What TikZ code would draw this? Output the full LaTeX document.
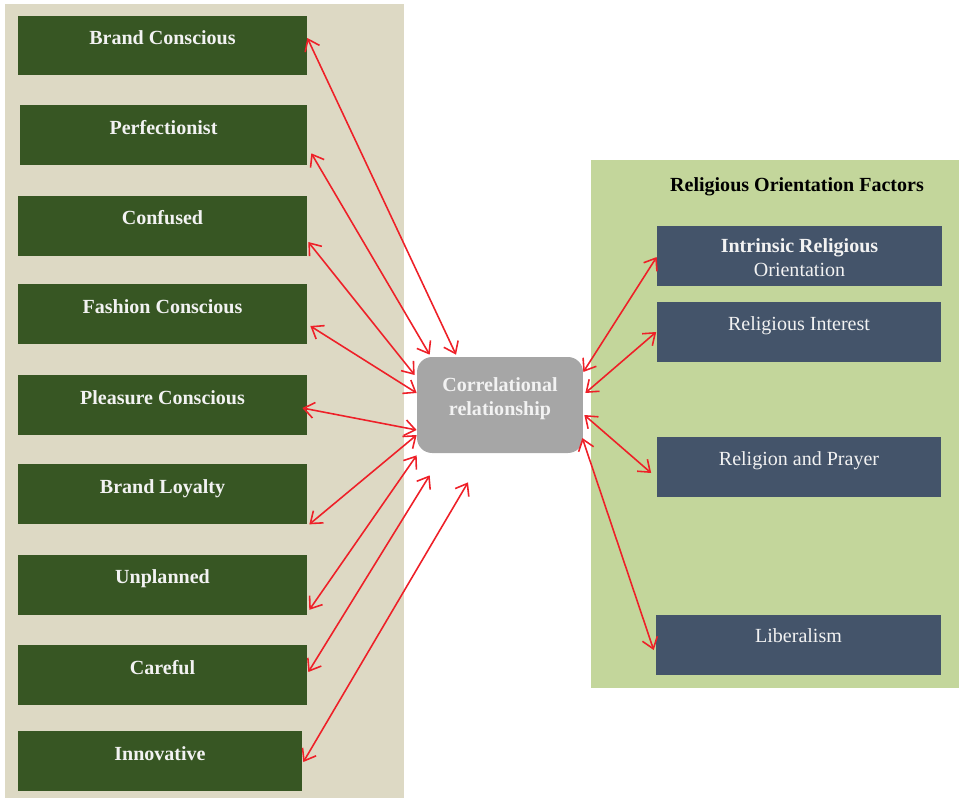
\documentclass[tikz,border=0pt]{standalone}
\usepackage{fontspec}
\setmainfont{Liberation Serif}
\usetikzlibrary{positioning,calc,arrows.meta}
\definecolor{panelbeige}{HTML}{DDD9C4}
\definecolor{panelgreen}{HTML}{C3D69B}
\definecolor{stylegreen}{HTML}{375623}
\definecolor{relslate}{HTML}{44546A}
\definecolor{corrgray}{HTML}{A6A6A6}
\definecolor{paletext}{HTML}{F2F2F2}
\definecolor{linkred}{HTML}{EE2028}

\begin{document}
\begin{tikzpicture}[
  x=0.02cm, y=-0.02cm,
  font=\fontsize{11.4}{14}\selectfont,
  stylebox/.style={fill=stylegreen, minimum width=5.78cm, minimum height=1.2cm,
                   inner ysep=0pt, text height=0.58cm, text depth=0.62cm,
                   text=paletext, font=\fontsize{11.4}{14}\selectfont\bfseries},
  relbox/.style={fill=relslate, minimum width=5.7cm, minimum height=1.2cm,
                 inner ysep=0pt, text=paletext},
  oneline/.style={text height=0.56cm, text depth=0.64cm},
  corrnode/.style={fill=corrgray, rounded corners=0.3cm, minimum width=3.32cm,
                   minimum height=1.92cm, text=paletext,
                   font=\fontsize{11.4}{14}\selectfont\bfseries},
  title/.style={font=\fontsize{11.4}{14}\selectfont\bfseries},
  link/.style={<->, >={Straight Barb[length=6pt,width=9pt]}, line width=0.9pt, draw=linkred},
]
\useasboundingbox (0,0) rectangle (959,798);

% Panels
\fill[panelbeige] (5,4) rectangle (404,798);
\fill[panelgreen] (591,160) rectangle (959,688);

% Left column: decision-making styles
\node[stylebox] (brand) at (162.5,45.5) {Brand Conscious};
\node[stylebox, minimum width=5.74cm] (perfect) at (163.5,135) {Perfectionist};
\node[stylebox] (confused) at (162.5,225.5) {Confused};
\node[stylebox] (fashion) at (162.5,314) {Fashion Conscious};
\node[stylebox] (pleasure) at (162.5,405) {Pleasure Conscious};
\node[stylebox] (loyalty) at (162.5,494) {Brand Loyalty};
\node[stylebox] (unplanned) at (162.5,584.5) {Unplanned};
\node[stylebox] (careful) at (162.5,675) {Careful};
\node[stylebox, minimum width=5.68cm] (innov) at (160,761) {Innovative};

% Centre (first baseline raised above the middle)
\node[corrnode] (corr) at (500,405)
  {\raisebox{0.28cm}[0pt][0pt]{\begin{tabular}[t]{@{}c@{}}Correlational\\relationship\end{tabular}}};

% Right column: religious orientation
\node[title] (factors) at (797,187) {Religious Orientation Factors};
\node[relbox] (intrinsic) at (799.5,255.5)
  {\raisebox{0.07cm}[0pt][0pt]{\begin{tabular}[t]{@{}c@{}}\textbf{Intrinsic Religious}\\Orientation\end{tabular}}};
\node[relbox, oneline] (interest) at (799,332) {Religious Interest};
\node[relbox, oneline] (prayer) at (799,467) {Religion and Prayer};
\node[relbox, oneline] (liberal) at (798.5,644.5) {Liberalism};

% Links to the left column
\draw[link] ($(brand.east)+(0,-7.5)$) -- ($(corr.north)+(-44,-2)$);
\draw[link] ($(perfect.south east)+(4,-12)$) -- ($(corr.north west)+(13,-2)$);
\draw[link] ($(confused.east)+(1,16.5)$) -- ($(corr.west)+(-2,-30)$);
\draw[link] ($(fashion.east)+(3,12)$) -- ($(corr.west)+(0,-12)$);
\draw[link] ($(pleasure.east)+(-5,3)$) -- ($(corr.west)+(0,25)$);
\draw[link] ($(loyalty.south east)+(2,0)$) -- ($(corr.west)+(0,30)$);
\draw[link] ($(unplanned.south east)+(2,-5)$) -- ($(corr.south west)+(0,2)$);
\draw[link] ($(careful.east)+(1,-3)$) -- ($(corr.south west)+(13,22)$);
\draw[link] ($(innov.east)+(1,1)$) -- ($(corr.south)+(-32,29)$);

% Links to the right column
\draw[link] ($(corr.east)+(0,-33)$) -- ($(intrinsic.west)+(0,1.5)$);
\draw[link] ($(corr.east)+(2,-12)$) -- (interest.west);
\draw[link] ($(corr.east)+(1,10)$) -- ($(prayer.west)+(-5,6)$);
\draw[link] ($(corr.east)+(-1,33)$) -- ($(liberal.west)+(-2,5.5)$);

\end{tikzpicture}
\end{document}
